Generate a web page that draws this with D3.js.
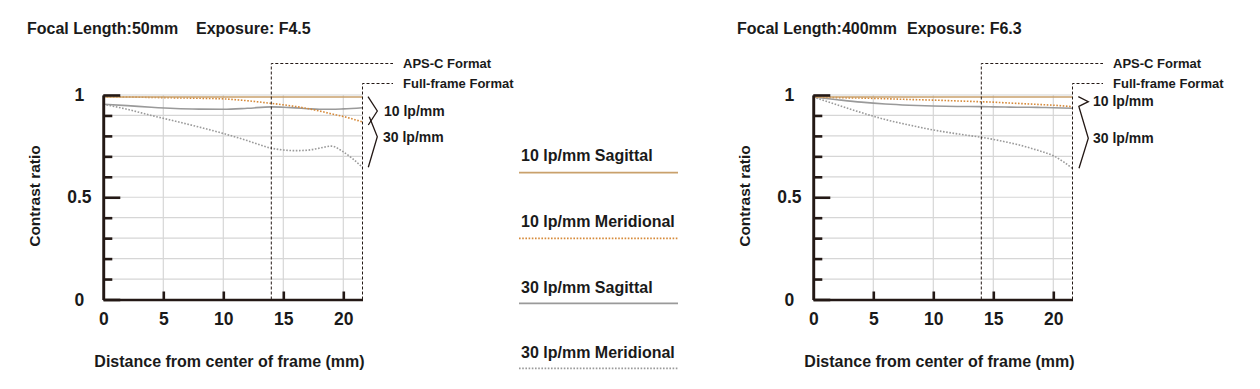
<!DOCTYPE html>
<html>
<head>
<meta charset="utf-8">
<script src="https://cdnjs.cloudflare.com/ajax/libs/d3/7.8.5/d3.min.js"></script>
<style>
body {
    margin: 0;
    background: #fff;
    font-family: "Liberation Sans", Arial, sans-serif;
}
svg text {
    font-family: "Liberation Sans", Arial, sans-serif;
    font-weight: 700;
    fill: #1a1a1a;
}
</style>
</head>
<body>
<svg id="canvas" width="1260" height="389"></svg>
<script>
// distance from center of frame (mm)
var distances = [0, 2, 4, 6, 8, 10, 12, 14, 15, 16, 17, 18, 19, 20, 21.6];

// 50mm  F4.5
var wide_s10 = [0.99, 0.99, 0.99, 0.99, 0.99, 0.99, 0.99, 0.99, 0.99, 0.99, 0.99, 0.99, 0.99, 0.99, 0.99];
var wide_m10 = [0.99, 0.99, 0.988, 0.986, 0.984, 0.981, 0.972, 0.959, 0.952, 0.944, 0.934, 0.922, 0.908, 0.895, 0.868];
var wide_s30 = [0.955, 0.948, 0.94, 0.934, 0.931, 0.93, 0.935, 0.942, 0.94, 0.937, 0.933, 0.93, 0.93, 0.932, 0.938];
var wide_m30 = [0.955, 0.93, 0.9, 0.872, 0.843, 0.812, 0.777, 0.74, 0.731, 0.728, 0.73, 0.74, 0.75, 0.722, 0.646];

// 400mm  F6.3
var tele_s10 = [0.99, 0.99, 0.99, 0.99, 0.99, 0.99, 0.99, 0.99, 0.99, 0.99, 0.99, 0.99, 0.99, 0.99, 0.99];
var tele_m10 = [0.99, 0.987, 0.985, 0.982, 0.978, 0.975, 0.971, 0.967, 0.965, 0.962, 0.959, 0.956, 0.953, 0.95, 0.943];
var tele_s30 = [0.99, 0.977, 0.965, 0.956, 0.95, 0.946, 0.944, 0.943, 0.942, 0.941, 0.94, 0.94, 0.939, 0.938, 0.935];
var tele_m30 = [0.99, 0.952, 0.914, 0.88, 0.853, 0.829, 0.81, 0.793, 0.783, 0.771, 0.758, 0.742, 0.724, 0.703, 0.641];

var xTicks = [0, 5, 10, 15, 20];
var yMajor = [0, 0.5, 1];
var yMinor = [0.1, 0.2, 0.3, 0.4, 0.6, 0.7, 0.8, 0.9];
var yGrid = [0.1, 0.2, 0.3, 0.4, 0.5, 0.6, 0.7, 0.8, 0.9, 1];

var apsc = 14;
var fullFrame = 21.6;

var seriesNames = ["10 lp/mm Sagittal", "10 lp/mm Meridional", "30 lp/mm Sagittal", "30 lp/mm Meridional"];
var seriesColors = ["#c9a16c", "#d68a3a", "#9a9a9a", "#9a9a9a"];
var seriesDash = [null, "1.6,1.6", null, "1.6,1.6"];

var charts = [
    { ox: 0, focal: "Focal Length:50mm", exposure: "Exposure: F4.5", expX: 196,
      series: [wide_s10, wide_m10, wide_s30, wide_m30] },
    { ox: 710, focal: "Focal Length:400mm", exposure: "Exposure: F6.3", expX: 197,
      series: [tele_s10, tele_m10, tele_s30, tele_m30] }
];

var axisColor = "#231815";
var svg = d3.select("#canvas");

function drawChart(c) {
    var g = svg.append("g").attr("transform", "translate(" + c.ox + ",0)");
    var x = d3.scaleLinear().domain([0, fullFrame]).range([103.3, 362.5]);
    var y = d3.scaleLinear().domain([0, 1]).range([299.5, 95]);

    // title
    g.append("text").attr("x", 27).attr("y", 34).style("font-size", "16px").text(c.focal);
    g.append("text").attr("x", c.expX).attr("y", 34).style("font-size", "16px").text(c.exposure);

    // grid
    g.selectAll(".hgrid").data(yGrid).enter().append("line")
        .attr("x1", x(0)).attr("x2", x(fullFrame))
        .attr("y1", function(d) { return y(d); }).attr("y2", function(d) { return y(d); })
        .attr("stroke", "#d6d6d6").attr("stroke-width", 1.2);
    g.selectAll(".vgrid").data(xTicks.slice(1)).enter().append("line")
        .attr("x1", function(d) { return x(d); }).attr("x2", function(d) { return x(d); })
        .attr("y1", y(1)).attr("y2", y(0))
        .attr("stroke", "#d6d6d6").attr("stroke-width", 1.2);

    // curves
    var line = d3.line()
        .x(function(d, i) { return x(distances[i]); })
        .y(function(d) { return y(d); })
        .curve(d3.curveMonotoneX);
    // greys first, orange on top
    [3, 2, 1, 0].forEach(function(k) {
        g.append("path")
            .attr("d", line(c.series[k]))
            .attr("fill", "none")
            .attr("stroke", seriesColors[k])
            .attr("stroke-width", 1.6)
            .attr("stroke-dasharray", seriesDash[k]);
    });

    // format frames
    var fmt = g.append("g").attr("stroke", axisColor).attr("stroke-width", 1).attr("fill", "none")
        .attr("stroke-dasharray", "3,2");
    fmt.append("path").attr("d", "M" + x(apsc) + "," + y(0) + "V63.5H393");
    fmt.append("path").attr("d", "M" + x(fullFrame) + "," + y(0) + "V83.5H393");
    g.append("text").attr("x", 403).attr("y", 68).style("font-size", "13px").text("APS-C Format");
    g.append("text").attr("x", 403).attr("y", 88).style("font-size", "13px").text("Full-frame Format");

    // axes
    var yMinorAxis = d3.axisLeft(y).tickValues(yMinor).tickSize(-9).tickSizeOuter(0).tickFormat("");
    var yMajorAxis = d3.axisLeft(y).tickValues(yMajor).tickSize(-17).tickSizeOuter(0).tickFormat(d3.format("~g"));
    var xAxis = d3.axisBottom(x).tickValues(xTicks).tickSize(-8).tickSizeOuter(0).tickPadding(13);

    var ax1 = g.append("g").attr("transform", "translate(" + x(0) + ",0)").call(yMinorAxis);
    var ax2 = g.append("g").attr("transform", "translate(" + x(0) + ",0)").call(yMajorAxis);
    var ax3 = g.append("g").attr("transform", "translate(0," + y(0) + ")").call(xAxis);
    [ax1, ax2, ax3].forEach(function(a) {
        a.select(".domain").attr("stroke", axisColor).attr("stroke-width", 2.6);
        a.selectAll(".tick line").attr("stroke", axisColor).attr("stroke-width", 2.6);
        a.selectAll("text").attr("fill", "#1a1a1a").style("font-size", "17.5px")
            .style("font-family", "'Liberation Sans', Arial, sans-serif").style("font-weight", 700);
    });
    ax2.selectAll("text").attr("x", -24).attr("text-anchor", "middle");
    ax3.selectAll(".tick").filter(function(d) { return d === 0; }).select("line").remove();

    // axis titles
    g.append("text")
        .attr("transform", "translate(40,196) rotate(-90)")
        .attr("text-anchor", "middle").style("font-size", "15.5px").text("Contrast ratio");
    g.append("text").attr("x", 229.5).attr("y", 367)
        .attr("text-anchor", "middle").style("font-size", "16px").text("Distance from center of frame (mm)");
}

charts.forEach(drawChart);

// brackets and lp/mm labels
var brk = svg.append("g").attr("fill", "none").attr("stroke", axisColor).attr("stroke-width", 1.3);
brk.append("polyline").attr("points", "368,96.7 377.3,111 368.3,125");
brk.append("polyline").attr("points", "369.3,116.7 377.3,136.7 368.3,167.3");
brk.append("polyline").attr("points", "1078.3,96.7 1088.3,101.7 1078.3,106.7");
brk.append("polyline").attr("points", "1079,107 1088.3,138.3 1079,168.3");
svg.append("text").attr("x", 384).attr("y", 115.5).style("font-size", "14px").text("10 lp/mm");
svg.append("text").attr("x", 383).attr("y", 142).style("font-size", "14px").text("30 lp/mm");
svg.append("text").attr("x", 1093).attr("y", 105.5).style("font-size", "14px").text("10 lp/mm");
svg.append("text").attr("x", 1093).attr("y", 142.7).style("font-size", "14px").text("30 lp/mm");

// legend
var legLineY = [172.7, 238.3, 303.3, 368.3];
var legTextY = [160.7, 227.3, 293.3, 358.3];
var leg = svg.append("g");
seriesNames.forEach(function(name, k) {
    leg.append("text").attr("x", 521).attr("y", legTextY[k]).style("font-size", "16px").text(name);
    leg.append("line").attr("x1", 519).attr("x2", 678).attr("y1", legLineY[k]).attr("y2", legLineY[k])
        .attr("stroke", seriesColors[k]).attr("stroke-width", 1.8)
        .attr("stroke-dasharray", seriesDash[k]);
});
</script>
</body>
</html>
